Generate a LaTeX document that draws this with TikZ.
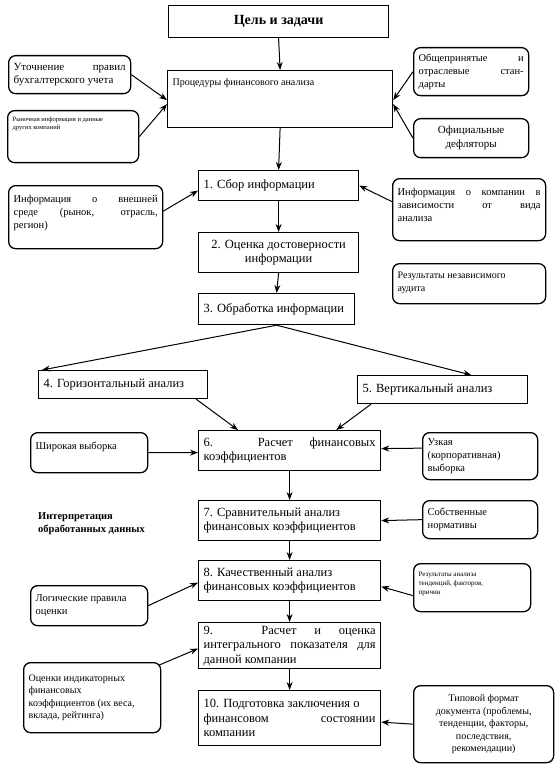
\documentclass[tikz,border=0pt]{standalone}
\usepackage{fontspec}
\setmainfont{Liberation Serif}
\usetikzlibrary{arrows.meta}
\newcommand\bt[3]{\parbox[c][#2][t]{#1}{#3}}
\newcommand\bc[3]{\parbox[c][#2][c]{#1}{#3}}
\newcommand\fs[1]{\fontsize{#1}{1.25\dimexpr#1pt\relax}\selectfont}
\begin{document}
\begin{tikzpicture}[x=1pt,y=-1pt,
  sbox/.style={draw, line width=1.2pt, anchor=north west, inner xsep=5pt, inner ysep=3pt, font=\fontsize{12.5}{14.5}\selectfont},
  rbox/.style={draw, line width=1.3pt, rounded corners=7pt, anchor=north west, inner xsep=5pt, inner ysep=3pt, font=\fontsize{10.5}{13}\selectfont},
  arr/.style={-{Stealth[length=8pt,width=6pt]}, line width=1pt}]
\fill[white] (0,0) rectangle (559,770);
\useasboundingbox (0,0) rectangle (559,770);
% main column
\node[sbox] (goal) at (168,5) {\bc{210pt}{26pt}{\centering\fontsize{14}{16}\selectfont\bfseries Цель и задачи}};
\node[sbox] (proc) at (167,70) {\bt{215pt}{51pt}{\fontsize{10}{12}\selectfont\rule{0pt}{12pt}Процедуры финансового анализа}};
\node[sbox] (s1) at (198,170) {\bc{150pt}{24pt}{1. Сбор информации}};
\node[sbox] (s2) at (198,232) {\bc{150pt}{34pt}{\centering 2. Оценка достоверности\\ информации}};
\node[sbox] (s3) at (198,293) {\bc{146pt}{25pt}{3. Обработка информации}};
\node[sbox] (s4) at (38,370) {\bc{159pt}{22pt}{4. Горизонтальный анализ}};
\node[sbox] (s5) at (357,375) {\bc{160pt}{22pt}{5. Вертикальный анализ}};
\node[sbox] (s6) at (198,430) {\bc{172pt}{34pt}{6. Расчет финансовых\linebreak коэффициентов}};
\node[sbox] (s7) at (198,500) {\bc{172pt}{34pt}{7. Сравнительный анализ\\ финансовых коэффициентов}};
\node[sbox] (s8) at (198,560) {\bc{172pt}{34pt}{8. Качественный анализ\\ финансовых коэффициентов}};
\node[sbox] (s9) at (198,622) {\bc{172pt}{40pt}{9. Расчет и оценка\linebreak интегрального показателя для\linebreak данной компании}};
\node[sbox] (s10) at (198,690) {\bc{172pt}{49pt}{10. Подготовка заключения о\\ финансовом состоянии\linebreak компании}};
% side boxes
\node[rbox] (l1) at (8,55) {\bc{112pt}{32pt}{\fs{11}Уточнение правил\linebreak бухгалтерского учета}};
\node[rbox] (l2) at (7,110) {\bt{121pt}{46pt}{\fs{6.5}\rule{0pt}{8pt}Рыночная информация и данные\\ других компаний}};
\node[rbox] (r1) at (413,47) {\bc{105pt}{42pt}{Общепринятые и\linebreak отраслевые стан-\linebreak дарты}};
\node[rbox] (r2) at (413,118) {\bc{105pt}{33pt}{\centering\fs{11}Официальные\\ дефляторы}};
\node[rbox] (i1) at (8,185) {\bt{144pt}{57pt}{\rule{0pt}{14pt}Информация о внешней\linebreak среде (рынок, отрасль,\linebreak регион)}};
\node[rbox] (i2) at (392,178) {\bt{143pt}{56pt}{\rule{0pt}{14pt}Информация о компании в\linebreak зависимости от вида\linebreak анализа}};
\node[rbox] (audit) at (392,263) {\bt{143pt}{34pt}{\fs{10}\rule{0pt}{12pt}Результаты независимого\\ аудита}};
\node[rbox] (wide) at (30,432) {\bt{107pt}{34pt}{\rule{0pt}{14pt}Широкая выборка}};
\node[rbox] (narrow) at (422,432) {\bt{105pt}{41pt}{\rule{0pt}{10pt}Узкая\\ (корпоративная)\\ выборка}};
\node[rbox] (own) at (422,500) {\bc{105pt}{32pt}{Собственные\\ нормативы}};
\node[rbox] (logic) at (30,585) {\bc{107pt}{34pt}{Логические правила\\ оценки}};
\node[rbox] (res) at (413,563) {\bt{107pt}{42pt}{\fs{7}\rule{0pt}{10pt}Результаты анализа\\ тенденций, факторов,\\ причин}};
\node[rbox] (est) at (23,662) {\bc{127pt}{64pt}{\fs{10}Оценки индикаторных\\ финансовых\\ коэффициентов (их веса,\\ вклада, рейтинга)}};
\node[rbox] (fmt) at (413,685) {\bc{130pt}{71pt}{\centering\fs{10}Типовой формат\\ документа (проблемы,\\ тенденции, факторы,\\ последствия,\\ рекомендации)}};
\node[anchor=north west, align=left, font=\fontsize{10.5}{13}\selectfont\bfseries, inner sep=0pt] (interp) at (38,512) {Интерпретация\\ обработанных данных};
% connectors main
\draw[arr] (goal.south) -- (proc.north);
\draw[arr] (proc.south) -- (s1.north);
\draw[arr] (s1.south) -- (s2.north);
\draw[arr] (s2.south) -- (s3.north);
\draw[arr] (s3.south) -- ([xshift=4pt]s4.north west);
\draw[arr] (s3.south) -- ([xshift=-57pt]s5.north east);
\draw[arr] ([xshift=-12pt]s4.south east) -- ([xshift=40pt]s6.north west);
\draw[arr] ([xshift=14pt]s5.south west) -- ([xshift=-45pt]s6.north east);
\draw[arr] (s6.south) -- (s7.north);
\draw[arr] (s7.south) -- (s8.north);
\draw[arr] (s8.south) -- (s9.north);
\draw[arr] (s9.south) -- (s10.north);
% connectors side
\draw[arr] (l1.east) -- ([yshift=-1pt]proc.west);
\draw[arr] (l2.east) -- ([yshift=-5pt]proc.west);
\draw[arr] (r1.west) -- ([yshift=-1pt]proc.east);
\draw[arr] (r2.west) -- ([yshift=-5pt]proc.east);
\draw[arr] ([yshift=6pt]i1.east) -- ([yshift=-5pt]s1.west);
\draw[arr] ([yshift=8pt]i2.west) -- (s1.east);
\draw[arr] (wide.east) -- ([yshift=-2pt]s6.west);
\draw[arr] ([yshift=8pt]narrow.west) -- ([yshift=2pt]s6.east);
\draw[arr] (own.west) -- (s7.east);
\draw[arr] (logic.east) -- ([yshift=-2pt]s8.west);
\draw[arr] ([yshift=-8pt]res.west) -- ([yshift=-6pt]s8.east);
\draw[arr] ([xshift=-2pt,yshift=-3pt]est.north east) -- ([yshift=-3pt]s9.west);
\draw[arr] (fmt.west) -- ([yshift=-4pt]s10.east);
\end{tikzpicture}
\end{document}
